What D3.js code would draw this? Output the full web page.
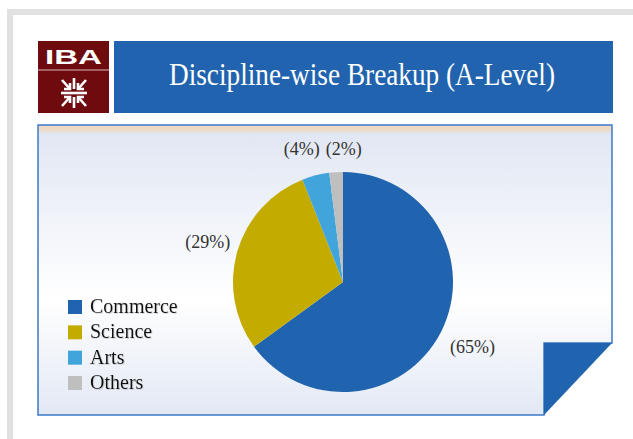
<!DOCTYPE html>
<html>
<head>
<meta charset="utf-8">
<script src="https://cdn.jsdelivr.net/npm/d3@7/dist/d3.min.js"></script>
<style>
html,body{margin:0;padding:0;background:#fff;}
svg{display:block;}
</style>
</head>
<body>
<svg id="chart" width="633" height="439"></svg>
<script>
const categories = ["Commerce", "Science", "Arts", "Others"];
const values = [65, 29, 4, 2];
const labels = ["(65%)", "(29%)", "(4%)", "(2%)"];
const colors = ["#2063AF", "#C3AB00", "#41A5DC", "#BFBFBF"];
const titleText = "Discipline-wise Breakup (A-Level)";

const svg = d3.select("#chart");
const defs = svg.append("defs");

// frame
svg.append("rect").attr("x", 7).attr("y", 9).attr("width", 626).attr("height", 6).attr("fill", "#E1E1E1");
svg.append("rect").attr("x", 7).attr("y", 9).attr("width", 6).attr("height", 430).attr("fill", "#E1E1E1");

// logo
const logo = svg.append("g");
logo.append("rect").attr("x", 38).attr("y", 41).attr("width", 71).attr("height", 72).attr("fill", "#6E0B0E");
logo.append("line").attr("x1", 38).attr("x2", 109).attr("y1", 70).attr("y2", 70).attr("stroke", "#D9B8B8").attr("stroke-width", 1);
logo.append("text").attr("x", 73.5).attr("y", 63.5).attr("text-anchor", "middle")
  .attr("font-family", "Liberation Sans, Arial, sans-serif").attr("font-weight", "bold")
  .attr("font-size", 20).attr("textLength", 57).attr("lengthAdjust", "spacingAndGlyphs")
  .attr("fill", "#fff").text("IBA");
const sym = logo.append("g").attr("transform", "translate(74,93)")
  .attr("stroke", "#fff").attr("stroke-width", 2.6).attr("fill", "none").attr("stroke-linecap", "butt");
sym.append("line").attr("x1", -13).attr("x2", 13).attr("y1", 0).attr("y2", 0);
sym.append("line").attr("x1", 0).attr("x2", 0).attr("y1", -15).attr("y2", -4);
sym.append("line").attr("x1", 0).attr("x2", 0).attr("y1", 4).attr("y2", 15);
[[-1,-1],[1,-1],[-1,1],[1,1]].forEach(([sx, sy]) => {
  sym.append("line").attr("x1", sx*12).attr("y1", sy*13).attr("x2", sx*4).attr("y2", sy*4);
  sym.append("path").attr("d", `M${sx*4},${sy*10} L${sx*4},${sy*4} L${sx*10},${sy*4}`);
});

// title band
svg.append("rect").attr("x", 114).attr("y", 41).attr("width", 499).attr("height", 72).attr("fill", "#2163AE");
svg.append("text").attr("x", 362).attr("y", 85).attr("text-anchor", "middle")
  .attr("font-family", "Liberation Serif, Times New Roman, serif").attr("font-size", 30.5)
  .attr("textLength", 386).attr("lengthAdjust", "spacingAndGlyphs")
  .attr("fill", "#fff").text(titleText);

// panel
const grad = defs.append("linearGradient").attr("id", "pg").attr("x1", 0).attr("x2", 0).attr("y1", 0).attr("y2", 1);
[[0, "#EEDAC4"], [0.017, "#EEDAC4"], [0.03, "#E1E7F3"], [0.6, "#FFFFFF"], [1, "#E2E8F4"]]
  .forEach(([o, c]) => grad.append("stop").attr("offset", o).attr("stop-color", c));
svg.append("path")
  .attr("d", "M38,125 L612,125 L612,343 L544,343 L544,415 L38,415 Z")
  .attr("fill", "url(#pg)").attr("stroke", "#3C7BC6").attr("stroke-width", 1.5);
svg.append("path").attr("d", "M544,343 L612,343 L544,415 Z").attr("fill", "#2063AF");

// pie
const cx = 343, cy = 282, R = 110;
const pie = d3.pie().sort(null).value(d => d.v);
const data = categories.map((c, i) => ({ c, v: values[i], label: labels[i], color: colors[i] }));
const arcs = pie(data);
const arc = d3.arc().innerRadius(0).outerRadius(R);
const g = svg.append("g").attr("transform", `translate(${cx},${cy})`);
g.selectAll("path.slice").data(arcs).enter().append("path")
  .attr("class", "slice").attr("d", arc).attr("fill", d => d.data.color);

// labels
const labelArc = d3.arc().innerRadius(143).outerRadius(143);
const labelFont = "Liberation Serif, Times New Roman, serif";
const lbl = g.selectAll("text.lbl").data(arcs).enter().append("text")
  .attr("class", "lbl").attr("text-anchor", "middle")
  .attr("font-family", labelFont).attr("font-size", 18).attr("fill", "#333")
  .text(d => d.data.label);
const pos = arcs.map((d, i) => {
  const [x, y] = labelArc.centroid(d);
  const w = lbl.nodes()[i].getComputedTextLength();
  return { x, y: Math.max(y, -R - 23), w };
});
// resolve horizontal overlaps for labels on the same row
const topRow = pos.filter(p => p.y <= -R - 23).sort((a, b) => a.x - b.x);
for (let k = 0; k < 5; k++) {
  for (let i = 1; i < topRow.length; i++) {
    const a = topRow[i - 1], b = topRow[i];
    const need = a.w / 2 + b.w / 2 + 6;
    const d = b.x - a.x;
    if (d < need) { const s = (need - d) / 2; a.x -= s; b.x += s; }
  }
}
lbl.attr("x", (d, i) => pos[i].x + 2).attr("y", (d, i) => pos[i].y + 6);

// legend
const ly = d3.scalePoint().domain(categories).range([307, 383]);
const leg = svg.append("g");
const shadow = defs.append("filter").attr("id", "ts").attr("x", "-5%").attr("y", "-20%").attr("width", "115%").attr("height", "150%");
shadow.append("feDropShadow").attr("dx", 0.8).attr("dy", 0.8).attr("stdDeviation", 0.5).attr("flood-color", "#999").attr("flood-opacity", 0.45);
categories.forEach((c, i) => {
  leg.append("rect").attr("x", 68).attr("y", ly(c) - 7).attr("width", 14).attr("height", 14).attr("fill", colors[i]);
  leg.append("text").attr("x", 90).attr("y", ly(c) + 6)
    .attr("font-family", labelFont).attr("font-size", 20).attr("fill", "#111")
    .attr("filter", "url(#ts)").text(c);
});
</script>
</body>
</html>
